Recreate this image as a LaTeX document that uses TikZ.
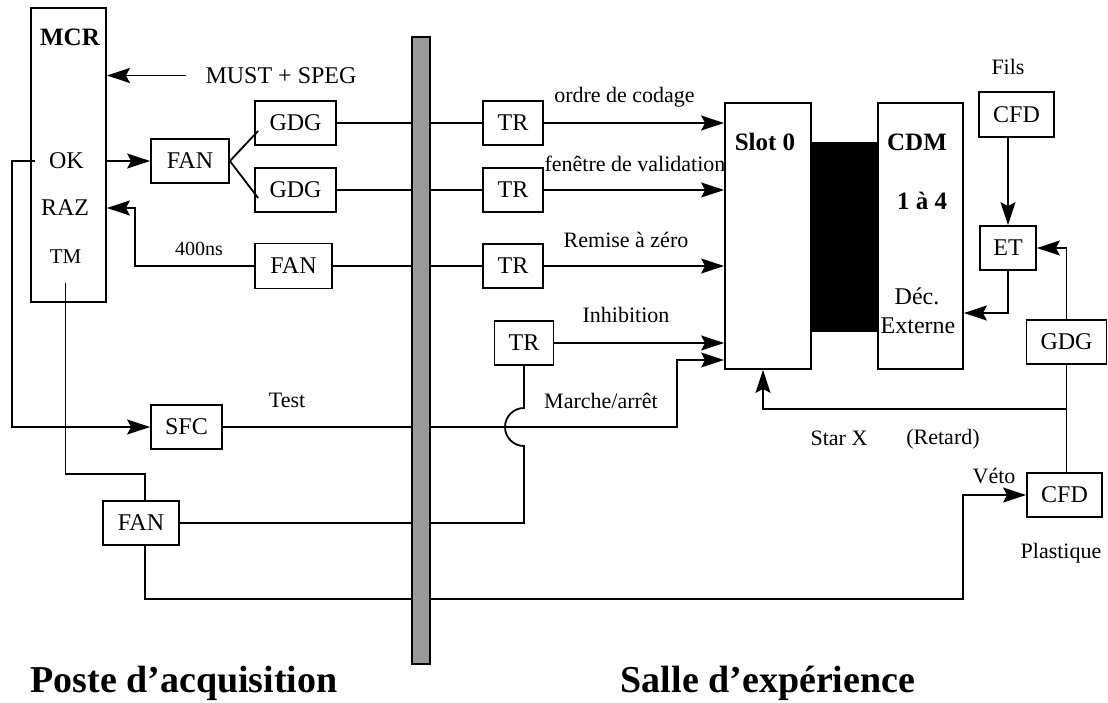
\documentclass[tikz,border=0pt]{standalone}
\usepackage{fontspec}
\setmainfont{Liberation Serif}
\usetikzlibrary{arrows.meta}
\definecolor{bargray}{gray}{0.6}
\tikzset{
  sz/.style 2 args={minimum width=#1pt, minimum height=#2pt},
  box/.style={draw, line width=1.8pt, inner sep=0pt, font=\fontsize{24}{28}\selectfont},
  txt/.style={inner sep=0pt, font=\fontsize{24}{28}\selectfont},
  lbl/.style={inner sep=0pt, font=\fontsize{22}{26}\selectfont},
  bld/.style={inner sep=0pt, font=\fontsize{25}{30}\selectfont\bfseries},
  big/.style={inner sep=0pt, anchor=base, font=\fontsize{38}{44}\selectfont\bfseries},
  wire/.style={line width=1.8pt},
  arr/.style={line width=1.8pt, -{Stealth[length=23pt,width=15pt,inset=4pt]}},
}
\begin{document}
\begin{tikzpicture}[x=1pt,y=-1pt]
\useasboundingbox (0,0) rectangle (1108,702);

% ---- left: MCR
\node[box, sz={75}{294}] (mcr) at (68.5,155) {};
\node[bld] (mcrt) at (70,37.5) {MCR};
\node[txt] (ok) at (66.5,161) {OK};
\node[txt] (raz) at (65,208) {RAZ};
\node[inner sep=0pt, font=\fontsize{21}{25}\selectfont] (tm) at (65.5,257) {TM};
\node[txt] (must) at (281,75.5) {MUST + SPEG};

% ---- boxes left of the bar
\node[box, sz={78}{44}] (fan1) at (190,161) {FAN};
\node[box, sz={81}{44}] (gdg1) at (295.5,123) {GDG};
\node[box, sz={81}{44}] (gdg2) at (295.5,190) {GDG};
\node[box, sz={77}{45}] (fan2) at (293.5,266) {FAN};
\node[box, sz={71}{44}] (sfc) at (186.5,427) {SFC};
\node[box, sz={76}{44}] (fan3) at (141,523) {FAN};

% ---- boxes right of the bar
\node[box, sz={60}{44}] (tr1) at (513,123) {TR};
\node[box, sz={60}{44}] (tr2) at (513,190) {TR};
\node[box, sz={60}{44}] (tr3) at (513,266) {TR};
\node[box, sz={59}{44}] (tr4) at (524,343) {TR};

\node[box, sz={86}{266}] (slot) at (768,236) {};
\node[box, sz={85}{266}] (cdm) at (920.5,236) {};
\node[fill=black, inner sep=0pt, sz={67}{190}] (link) at (844.5,237) {};
\node[bld] (slott) at (765,142) {Slot 0};
\node[bld] (cdmt) at (917,142) {CDM};
\node[bld] (cdmn) at (922,201) {1 à 4};
\node[txt] (dec) at (917,296) {Déc.};
\node[txt] (ext) at (918,326) {Externe};

\node[box, sz={75}{45}] (cfd1) at (1016.5,114.5) {CFD};
\node[box, sz={56}{44}] (et) at (1008,248) {ET};
\node[box, sz={80}{44}] (gdg3) at (1066.5,342) {GDG};
\node[box, sz={75}{44}] (cfd2) at (1064.5,495) {CFD};

% ---- labels
\node[inner sep=0pt, font=\fontsize{20}{24}\selectfont] (ns) at (199,249) {400ns};
\node[lbl] (test) at (287,400) {Test};
\node[lbl] (lord) at (624.5,97) {ordre de codage};
\node[lbl] (lfen) at (635,164) {fenêtre de validation};
\node[lbl] (lraz) at (626,240) {Remise à zéro};
\node[lbl] (linh) at (626,315) {Inhibition};
\node[lbl] (lma) at (601,401) {Marche/arrêt};
\node[lbl] (fils) at (1008,67) {Fils};
\node[lbl] (star) at (839,438) {Star X};
\node[lbl] (ret) at (943,439) {(Retard)};
\node[lbl] (veto) at (994,476) {Véto};
\node[lbl] (plast) at (1061,553) {Plastique};
\node[big] (poste) at (184,692) {Poste d’acquisition};
\node[big] (salle) at (768,692) {Salle d’expérience};

% ---- connectors
\draw[arr] ([xshift=-19pt]must.west) -- (must.west -| mcr.east);
\draw[arr] (ok.east -| mcr.east) -- (fan1.west);
\draw[wire] (fan1.east) -- ([xshift=4pt,yshift=-8pt]gdg1.west);
\draw[wire] (fan1.east) -- ([xshift=4pt,yshift=-8pt]gdg2.west);
\draw[wire] (gdg1.east) -- (tr1.west);
\draw[wire] (gdg2.east) -- (tr2.west);
\draw[wire] (fan2.east) -- (tr3.west);
\coordinate (razb) at (135,266);
\draw[arr] (fan2.west) -- (razb) |- (raz.east -| mcr.east);

\coordinate (okl) at (12,161);
\draw[arr] ([xshift=-14pt]ok.west) -- (okl) |- (sfc.west);
\coordinate (tmb) at (100,474);
\draw[wire] ([yshift=-19pt]tm.south) |- (tmb) -| ([xshift=4pt]fan3.north);

\draw[arr] (tr1.east) -- (tr1.east -| slot.west);
\draw[arr] (tr2.east) -- (tr2.east -| slot.west);
\draw[arr] (tr3.east) -- (tr3.east -| slot.west);
\draw[arr] (tr4.east) -- (tr4.east -| slot.west);

\coordinate (mab) at (677,427);
\path (tr4.east -| slot.west) ++(0,17) coordinate (mae);
\draw[arr] (sfc.east) -- (mab) |- (mae);

\path (tr4.south |- sfc.east) ++(0,19) coordinate (hopb);
\draw[wire] (fan3.east) -| (hopb) arc[start angle=270, end angle=90, radius=19pt] -- (tr4.south);

\draw[arr] (cfd1.south -| et.north) -- (et.north);
\path (cdm.east) ++(0,77) coordinate (dext);
\draw[arr] (et.south) |- (dext);
\draw[arr] (gdg3.north) |- (et.east);
\draw[wire] (gdg3.south) -- (gdg3.south |- cfd2.north);
\path (gdg3.south) ++(0,44) coordinate (stx);
\draw[arr] (stx) -| ([xshift=-5pt]slot.south);
\coordinate (vb) at (963,599);
\draw[arr] ([xshift=4pt]fan3.south) |- (vb) |- (cfd2.west);

% ---- separating bar (on top of the wires)
\node[draw, fill=bargray, line width=1.8pt, inner sep=0pt, sz={18}{627}] (bar) at (421,350.5) {};
\end{tikzpicture}
\end{document}
